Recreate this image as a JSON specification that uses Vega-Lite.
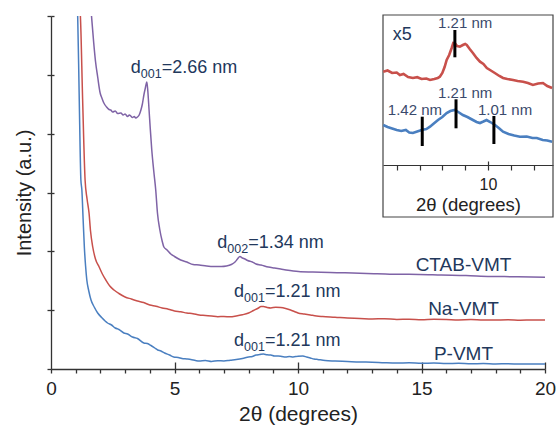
{
  "$schema": "https://vega.github.io/schema/vega-lite/v6.json",
  "width": 494,
  "height": 353,
  "autosize": {"type": "none"},
  "padding": {"left": 51, "top": 16, "right": 15, "bottom": 60},
  "config": {"view": {"stroke": null}, "font": "Liberation Sans"},
  "datasets": {
    "main": [
      {"series":"P-VMT","x":1.05,"y":364},{"series":"P-VMT","x":1.08,"y":353},{"series":"P-VMT","x":1.14,"y":275},{"series":"P-VMT","x":1.21,"y":189},{"series":"P-VMT","x":1.25,"y":179},{"series":"P-VMT","x":1.3,"y":150},{"series":"P-VMT","x":1.35,"y":122},{"series":"P-VMT","x":1.4,"y":103},{"series":"P-VMT","x":1.45,"y":89},{"series":"P-VMT","x":1.53,"y":78},{"series":"P-VMT","x":1.62,"y":69},{"series":"P-VMT","x":1.75,"y":62},{"series":"P-VMT","x":1.89,"y":56},{"series":"P-VMT","x":2.05,"y":51.5},{"series":"P-VMT","x":2.29,"y":46},{"series":"P-VMT","x":2.45,"y":44},{"series":"P-VMT","x":2.6,"y":41},{"series":"P-VMT","x":2.75,"y":39.5},{"series":"P-VMT","x":2.95,"y":36},{"series":"P-VMT","x":3.1,"y":35},{"series":"P-VMT","x":3.3,"y":32},{"series":"P-VMT","x":3.5,"y":30.5},{"series":"P-VMT","x":3.76,"y":26},{"series":"P-VMT","x":3.9,"y":25.5},{"series":"P-VMT","x":4.05,"y":23.5},{"series":"P-VMT","x":4.2,"y":21},{"series":"P-VMT","x":4.32,"y":19},{"series":"P-VMT","x":4.45,"y":18},{"series":"P-VMT","x":4.6,"y":16},{"series":"P-VMT","x":4.8,"y":14},{"series":"P-VMT","x":4.97,"y":12},{"series":"P-VMT","x":5.15,"y":11.5},{"series":"P-VMT","x":5.3,"y":10.5},{"series":"P-VMT","x":5.5,"y":10},{"series":"P-VMT","x":5.66,"y":9.5},{"series":"P-VMT","x":5.85,"y":8.5},{"series":"P-VMT","x":6.0,"y":8},{"series":"P-VMT","x":6.25,"y":8.5},{"series":"P-VMT","x":6.5,"y":7.5},{"series":"P-VMT","x":6.75,"y":8.3},{"series":"P-VMT","x":7.0,"y":8},{"series":"P-VMT","x":7.25,"y":8.8},{"series":"P-VMT","x":7.5,"y":9.5},{"series":"P-VMT","x":7.75,"y":10.5},{"series":"P-VMT","x":8.0,"y":12},{"series":"P-VMT","x":8.15,"y":12.5},{"series":"P-VMT","x":8.3,"y":14},{"series":"P-VMT","x":8.45,"y":14.5},{"series":"P-VMT","x":8.6,"y":15},{"series":"P-VMT","x":8.75,"y":14.2},{"series":"P-VMT","x":8.9,"y":14},{"series":"P-VMT","x":9.05,"y":13},{"series":"P-VMT","x":9.2,"y":13},{"series":"P-VMT","x":9.35,"y":12.5},{"series":"P-VMT","x":9.5,"y":12},{"series":"P-VMT","x":9.65,"y":12.5},{"series":"P-VMT","x":9.8,"y":12},{"series":"P-VMT","x":10.0,"y":12.8},{"series":"P-VMT","x":10.2,"y":13},{"series":"P-VMT","x":10.35,"y":12},{"series":"P-VMT","x":10.5,"y":11},{"series":"P-VMT","x":10.65,"y":10},{"series":"P-VMT","x":10.8,"y":9.5},{"series":"P-VMT","x":11.1,"y":8.5},{"series":"P-VMT","x":11.5,"y":8},{"series":"P-VMT","x":12.0,"y":7.5},{"series":"P-VMT","x":12.5,"y":7},{"series":"P-VMT","x":13.0,"y":6.8},{"series":"P-VMT","x":13.5,"y":6.3},{"series":"P-VMT","x":14,"y":6},{"series":"P-VMT","x":14.5,"y":6.2},{"series":"P-VMT","x":15,"y":5.7},{"series":"P-VMT","x":15.5,"y":5.9},{"series":"P-VMT","x":16,"y":5.5},{"series":"P-VMT","x":16.5,"y":5.7},{"series":"P-VMT","x":17,"y":5.2},{"series":"P-VMT","x":17.5,"y":5.5},{"series":"P-VMT","x":18,"y":5},{"series":"P-VMT","x":18.5,"y":5.3},{"series":"P-VMT","x":19,"y":4.9},{"series":"P-VMT","x":19.5,"y":5.1},{"series":"P-VMT","x":20,"y":5},
      {"series":"Na-VMT","x":1.16,"y":364},{"series":"Na-VMT","x":1.19,"y":353},{"series":"Na-VMT","x":1.28,"y":270},{"series":"Na-VMT","x":1.38,"y":189},{"series":"Na-VMT","x":1.46,"y":170},{"series":"Na-VMT","x":1.54,"y":156},{"series":"Na-VMT","x":1.6,"y":138},{"series":"Na-VMT","x":1.69,"y":122},{"series":"Na-VMT","x":1.8,"y":110},{"series":"Na-VMT","x":1.95,"y":102},{"series":"Na-VMT","x":2.08,"y":95},{"series":"Na-VMT","x":2.22,"y":89},{"series":"Na-VMT","x":2.38,"y":83},{"series":"Na-VMT","x":2.55,"y":79},{"series":"Na-VMT","x":2.75,"y":75.5},{"series":"Na-VMT","x":3.0,"y":72},{"series":"Na-VMT","x":3.25,"y":70},{"series":"Na-VMT","x":3.5,"y":68},{"series":"Na-VMT","x":3.75,"y":66.5},{"series":"Na-VMT","x":4.0,"y":64},{"series":"Na-VMT","x":4.25,"y":62.8},{"series":"Na-VMT","x":4.5,"y":61},{"series":"Na-VMT","x":4.75,"y":59.8},{"series":"Na-VMT","x":5.0,"y":58},{"series":"Na-VMT","x":5.25,"y":57.2},{"series":"Na-VMT","x":5.5,"y":56},{"series":"Na-VMT","x":5.75,"y":55.3},{"series":"Na-VMT","x":6.0,"y":54},{"series":"Na-VMT","x":6.25,"y":53.6},{"series":"Na-VMT","x":6.5,"y":53},{"series":"Na-VMT","x":6.75,"y":52.3},{"series":"Na-VMT","x":7.0,"y":52.5},{"series":"Na-VMT","x":7.25,"y":52.2},{"series":"Na-VMT","x":7.5,"y":53},{"series":"Na-VMT","x":7.75,"y":54.2},{"series":"Na-VMT","x":8.0,"y":56},{"series":"Na-VMT","x":8.2,"y":58.5},{"series":"Na-VMT","x":8.4,"y":61},{"series":"Na-VMT","x":8.5,"y":62.5},{"series":"Na-VMT","x":8.6,"y":62.5},{"series":"Na-VMT","x":8.75,"y":61.5},{"series":"Na-VMT","x":8.9,"y":61},{"series":"Na-VMT","x":9.1,"y":61.8},{"series":"Na-VMT","x":9.3,"y":61.5},{"series":"Na-VMT","x":9.5,"y":60.5},{"series":"Na-VMT","x":9.7,"y":59},{"series":"Na-VMT","x":9.85,"y":57.5},{"series":"Na-VMT","x":10.0,"y":56},{"series":"Na-VMT","x":10.25,"y":55},{"series":"Na-VMT","x":10.5,"y":54},{"series":"Na-VMT","x":10.75,"y":53},{"series":"Na-VMT","x":11.0,"y":52.5},{"series":"Na-VMT","x":11.5,"y":51.8},{"series":"Na-VMT","x":12.0,"y":51},{"series":"Na-VMT","x":12.5,"y":50.6},{"series":"Na-VMT","x":13.0,"y":50},{"series":"Na-VMT","x":13.5,"y":50.3},{"series":"Na-VMT","x":14.0,"y":49.5},{"series":"Na-VMT","x":14.5,"y":49.8},{"series":"Na-VMT","x":15,"y":49.3},{"series":"Na-VMT","x":15.5,"y":49.7},{"series":"Na-VMT","x":16,"y":49.5},{"series":"Na-VMT","x":16.5,"y":49.1},{"series":"Na-VMT","x":17,"y":49.4},{"series":"Na-VMT","x":17.5,"y":48.9},{"series":"Na-VMT","x":18,"y":49},{"series":"Na-VMT","x":18.5,"y":49.2},{"series":"Na-VMT","x":19,"y":48.8},{"series":"Na-VMT","x":19.5,"y":49.1},{"series":"Na-VMT","x":20,"y":49},
      {"series":"CTAB-VMT","x":1.62,"y":359},{"series":"CTAB-VMT","x":1.64,"y":353},{"series":"CTAB-VMT","x":1.73,"y":326},{"series":"CTAB-VMT","x":1.8,"y":308},{"series":"CTAB-VMT","x":1.89,"y":292},{"series":"CTAB-VMT","x":1.99,"y":276},{"series":"CTAB-VMT","x":2.06,"y":271},{"series":"CTAB-VMT","x":2.14,"y":266},{"series":"CTAB-VMT","x":2.25,"y":262},{"series":"CTAB-VMT","x":2.35,"y":259.5},{"series":"CTAB-VMT","x":2.42,"y":259},{"series":"CTAB-VMT","x":2.5,"y":257},{"series":"CTAB-VMT","x":2.6,"y":258},{"series":"CTAB-VMT","x":2.7,"y":255.5},{"series":"CTAB-VMT","x":2.83,"y":256},{"series":"CTAB-VMT","x":2.92,"y":254},{"series":"CTAB-VMT","x":3.0,"y":255},{"series":"CTAB-VMT","x":3.1,"y":252.5},{"series":"CTAB-VMT","x":3.17,"y":254},{"series":"CTAB-VMT","x":3.23,"y":253},{"series":"CTAB-VMT","x":3.3,"y":251.5},{"series":"CTAB-VMT","x":3.37,"y":252.5},{"series":"CTAB-VMT","x":3.43,"y":251},{"series":"CTAB-VMT","x":3.5,"y":252},{"series":"CTAB-VMT","x":3.57,"y":254},{"series":"CTAB-VMT","x":3.64,"y":259},{"series":"CTAB-VMT","x":3.7,"y":265},{"series":"CTAB-VMT","x":3.76,"y":274},{"series":"CTAB-VMT","x":3.82,"y":281},{"series":"CTAB-VMT","x":3.88,"y":287},{"series":"CTAB-VMT","x":3.92,"y":278},{"series":"CTAB-VMT","x":3.97,"y":259},{"series":"CTAB-VMT","x":4.02,"y":240},{"series":"CTAB-VMT","x":4.08,"y":219},{"series":"CTAB-VMT","x":4.16,"y":198},{"series":"CTAB-VMT","x":4.24,"y":179},{"series":"CTAB-VMT","x":4.31,"y":156},{"series":"CTAB-VMT","x":4.4,"y":140},{"series":"CTAB-VMT","x":4.5,"y":128},{"series":"CTAB-VMT","x":4.57,"y":122},{"series":"CTAB-VMT","x":4.7,"y":119},{"series":"CTAB-VMT","x":4.85,"y":115},{"series":"CTAB-VMT","x":5.0,"y":112.5},{"series":"CTAB-VMT","x":5.25,"y":109},{"series":"CTAB-VMT","x":5.5,"y":107},{"series":"CTAB-VMT","x":5.75,"y":104.5},{"series":"CTAB-VMT","x":6.0,"y":104},{"series":"CTAB-VMT","x":6.3,"y":103},{"series":"CTAB-VMT","x":6.6,"y":102.5},{"series":"CTAB-VMT","x":6.9,"y":102.5},{"series":"CTAB-VMT","x":7.1,"y":103},{"series":"CTAB-VMT","x":7.3,"y":104.5},{"series":"CTAB-VMT","x":7.45,"y":107},{"series":"CTAB-VMT","x":7.55,"y":110},{"series":"CTAB-VMT","x":7.65,"y":112.5},{"series":"CTAB-VMT","x":7.75,"y":111},{"series":"CTAB-VMT","x":7.85,"y":110},{"series":"CTAB-VMT","x":7.96,"y":108.5},{"series":"CTAB-VMT","x":8.15,"y":107},{"series":"CTAB-VMT","x":8.3,"y":105},{"series":"CTAB-VMT","x":8.5,"y":104},{"series":"CTAB-VMT","x":8.8,"y":102},{"series":"CTAB-VMT","x":9.05,"y":101},{"series":"CTAB-VMT","x":9.3,"y":100},{"series":"CTAB-VMT","x":9.6,"y":98.8},{"series":"CTAB-VMT","x":10.1,"y":97.3},{"series":"CTAB-VMT","x":10.6,"y":97},{"series":"CTAB-VMT","x":11.3,"y":96.5},{"series":"CTAB-VMT","x":11.9,"y":96.2},{"series":"CTAB-VMT","x":12.5,"y":95.7},{"series":"CTAB-VMT","x":13.2,"y":95.3},{"series":"CTAB-VMT","x":14.1,"y":94.7},{"series":"CTAB-VMT","x":14.9,"y":94.6},{"series":"CTAB-VMT","x":15.8,"y":94},{"series":"CTAB-VMT","x":16.8,"y":93.5},{"series":"CTAB-VMT","x":17.8,"y":92.5},{"series":"CTAB-VMT","x":18.9,"y":92.3},{"series":"CTAB-VMT","x":20,"y":91.7}
    ],
    "inset": [
      {"series":"Na-VMT","x":5.41,"y":93.3},{"series":"Na-VMT","x":5.6,"y":94.5},{"series":"Na-VMT","x":5.8,"y":92},{"series":"Na-VMT","x":6.0,"y":92.5},{"series":"Na-VMT","x":6.14,"y":90},{"series":"Na-VMT","x":6.3,"y":91},{"series":"Na-VMT","x":6.5,"y":88},{"series":"Na-VMT","x":6.71,"y":87},{"series":"Na-VMT","x":6.9,"y":87.8},{"series":"Na-VMT","x":7.09,"y":86},{"series":"Na-VMT","x":7.3,"y":86.5},{"series":"Na-VMT","x":7.46,"y":85},{"series":"Na-VMT","x":7.65,"y":86},{"series":"Na-VMT","x":7.8,"y":87},{"series":"Na-VMT","x":7.89,"y":88.3},{"series":"Na-VMT","x":8.0,"y":92},{"series":"Na-VMT","x":8.1,"y":98},{"series":"Na-VMT","x":8.19,"y":105},{"series":"Na-VMT","x":8.3,"y":110},{"series":"Na-VMT","x":8.41,"y":117},{"series":"Na-VMT","x":8.48,"y":122},{"series":"Na-VMT","x":8.55,"y":121.7},{"series":"Na-VMT","x":8.65,"y":119},{"series":"Na-VMT","x":8.77,"y":118.3},{"series":"Na-VMT","x":8.9,"y":120},{"series":"Na-VMT","x":9.0,"y":121},{"series":"Na-VMT","x":9.07,"y":120},{"series":"Na-VMT","x":9.2,"y":116},{"series":"Na-VMT","x":9.34,"y":112},{"series":"Na-VMT","x":9.5,"y":107},{"series":"Na-VMT","x":9.65,"y":103.3},{"series":"Na-VMT","x":9.8,"y":101},{"series":"Na-VMT","x":9.95,"y":97},{"series":"Na-VMT","x":10.09,"y":95},{"series":"Na-VMT","x":10.3,"y":92},{"series":"Na-VMT","x":10.5,"y":89},{"series":"Na-VMT","x":10.66,"y":87},{"series":"Na-VMT","x":10.85,"y":86},{"series":"Na-VMT","x":11.1,"y":85},{"series":"Na-VMT","x":11.3,"y":84},{"series":"Na-VMT","x":11.54,"y":83.3},{"series":"Na-VMT","x":11.75,"y":82},{"series":"Na-VMT","x":11.97,"y":80},{"series":"Na-VMT","x":12.2,"y":81.5},{"series":"Na-VMT","x":12.41,"y":82},{"series":"Na-VMT","x":12.6,"y":79},{"series":"Na-VMT","x":12.81,"y":77},
      {"series":"P-VMT","x":5.41,"y":40},{"series":"P-VMT","x":5.6,"y":38},{"series":"P-VMT","x":5.8,"y":36.5},{"series":"P-VMT","x":6.0,"y":35},{"series":"P-VMT","x":6.2,"y":34},{"series":"P-VMT","x":6.4,"y":35},{"series":"P-VMT","x":6.55,"y":32.5},{"series":"P-VMT","x":6.71,"y":32},{"series":"P-VMT","x":6.9,"y":33.5},{"series":"P-VMT","x":7.09,"y":35},{"series":"P-VMT","x":7.3,"y":36},{"series":"P-VMT","x":7.46,"y":38.3},{"series":"P-VMT","x":7.6,"y":41},{"series":"P-VMT","x":7.81,"y":45},{"series":"P-VMT","x":8.0,"y":48},{"series":"P-VMT","x":8.19,"y":52},{"series":"P-VMT","x":8.35,"y":54},{"series":"P-VMT","x":8.55,"y":55},{"series":"P-VMT","x":8.7,"y":53},{"series":"P-VMT","x":8.9,"y":50},{"series":"P-VMT","x":9.1,"y":48},{"series":"P-VMT","x":9.34,"y":45},{"series":"P-VMT","x":9.5,"y":43},{"series":"P-VMT","x":9.65,"y":42},{"series":"P-VMT","x":9.8,"y":43.5},{"series":"P-VMT","x":9.94,"y":45},{"series":"P-VMT","x":10.1,"y":43},{"series":"P-VMT","x":10.31,"y":40},{"series":"P-VMT","x":10.5,"y":36.5},{"series":"P-VMT","x":10.66,"y":33.3},{"series":"P-VMT","x":10.9,"y":31},{"series":"P-VMT","x":11.15,"y":29.5},{"series":"P-VMT","x":11.4,"y":28.3},{"series":"P-VMT","x":11.7,"y":28.5},{"series":"P-VMT","x":11.95,"y":27},{"series":"P-VMT","x":12.14,"y":27},{"series":"P-VMT","x":12.4,"y":25},{"series":"P-VMT","x":12.6,"y":24.5},{"series":"P-VMT","x":12.81,"y":23.3}
    ],
    "markers": [
      {"x":8.55,"y":107.7,"y2":135},
      {"x":8.6,"y":36.7,"y2":65.7},
      {"x":7.12,"y":19,"y2":48.3},
      {"x":10.26,"y":21,"y2":49}
    ],
    "insetLabels": [
      {"x":9.0,"y":142,"text":"1.21 nm"},
      {"x":9.0,"y":72,"text":"1.21 nm"},
      {"x":6.8,"y":55,"text":"1.42 nm"},
      {"x":10.75,"y":55,"text":"1.01 nm"}
    ],
    "dlabels": [
      {"x":3.23,"y":296,"sub":"001","rest":"=2.66 nm"},
      {"x":6.73,"y":121,"sub":"002","rest":"=1.34 nm"},
      {"x":7.41,"y":71.7,"sub":"001","rest":"=1.21 nm"},
      {"x":7.41,"y":23,"sub":"001","rest":"=1.21 nm"}
    ],
    "names": [
      {"x":16.7,"y":98.3,"text":"CTAB-VMT"},
      {"x":16.7,"y":54,"text":"Na-VMT"},
      {"x":16.7,"y":9,"text":"P-VMT"}
    ]
  },
  "layer": [
    {
      "data": {"name": "main"},
      "mark": {"type": "line", "strokeWidth": 1.5, "clip": true, "interpolate": "monotone"},
      "encoding": {
        "x": {"field": "x", "type": "quantitative",
          "scale": {"domain": [0, 20], "nice": false},
          "axis": {"orient": "bottom", "title": "2θ (degrees)", "values": [0,1,2,3,4,5,6,7,8,9,10,11,12,13,14,15,16,17,18,19,20],
            "labelExpr": "datum.value % 5 === 0 ? datum.label : ''",
            "tickSize": 4,
            "labelPadding": 6, "labelFlush": false, "labelOverlap": false, "grid": false,
            "labelFontSize": 19, "titleFontSize": 21, "titleFontWeight": "normal", "titlePadding": 5,
            "labelColor": "#222", "titleColor": "#222", "domainColor": "#333", "tickColor": "#333", "domainWidth": 1.3, "tickWidth": 1.3}},
        "y": {"field": "y", "type": "quantitative",
          "scale": {"domain": [0, 353], "nice": false},
          "axis": {"orient": "left", "title": "Intensity (a.u.)", "values": [0, 58.83, 117.67, 176.5, 235.33, 294.17, 353], "labels": false,
            "tickSize": 4, "grid": false, "titleFontSize": 20, "titleFontWeight": "normal", "titlePadding": 12,
            "titleColor": "#222", "domainColor": "#333", "tickColor": "#333", "domainWidth": 1.3, "tickWidth": 1.3}},
        "color": {"field": "series", "type": "nominal", "legend": null,
          "scale": {"domain": ["CTAB-VMT", "Na-VMT", "P-VMT"], "range": ["#7f63a6", "#c8504b", "#4a7fc0"]}}
      }
    },
    {
      "data": {"name": "dlabels"},
      "layer": [
        {"mark": {"type": "text", "text": "d", "align": "left", "baseline": "alphabetic", "fontSize": 18, "color": "#22385c"}},
        {"mark": {"type": "text", "align": "left", "baseline": "alphabetic", "fontSize": 12.5, "dx": 10, "dy": 4.5, "color": "#22385c"},
         "encoding": {"text": {"field": "sub"}}},
        {"mark": {"type": "text", "align": "left", "baseline": "alphabetic", "fontSize": 18, "dx": 31, "color": "#22385c"},
         "encoding": {"text": {"field": "rest"}}}
      ],
      "encoding": {
        "x": {"field": "x", "type": "quantitative", "scale": {"domain": [0, 20], "nice": false}, "axis": null},
        "y": {"field": "y", "type": "quantitative", "scale": {"domain": [0, 353], "nice": false}, "axis": null}
      }
    },
    {
      "data": {"name": "names"},
      "mark": {"type": "text", "align": "center", "baseline": "alphabetic", "fontSize": 19, "color": "#22385c"},
      "encoding": {
        "x": {"field": "x", "type": "quantitative", "scale": {"domain": [0, 20], "nice": false}, "axis": null},
        "y": {"field": "y", "type": "quantitative", "scale": {"domain": [0, 353], "nice": false}, "axis": null},
        "text": {"field": "text"}
      }
    },
    {
      "data": {"values": [{"x": 0, "y": 0}]},
      "mark": {"type": "point", "opacity": 0},
      "encoding": {
        "x": {"field": "x", "type": "quantitative", "scale": {"domain": [0, 20], "nice": false},
          "axis": {"orient": "bottom", "values": [5, 10, 15, 20], "tickSize": -7, "labels": false, "domain": false, "title": null, "grid": false, "tickColor": "#333", "tickWidth": 1.3}},
        "y": {"field": "y", "type": "quantitative", "scale": {"domain": [0, 353], "nice": false},
          "axis": {"orient": "left", "values": [58.83, 117.67, 176.5, 235.33, 294.17, 353], "tickSize": -3, "labels": false, "domain": false, "title": null, "grid": false, "tickColor": "#333", "tickWidth": 1.3}}
      }
    },
    {
      "data": {"values": [{}]},
      "mark": {"type": "rect", "fill": null, "stroke": "#444", "strokeWidth": 1.2, "clip": false},
      "encoding": {
        "x": {"datum": 5.4, "type": "quantitative", "scale": {"domain": [5.4, 12.85], "nice": false, "zero": false, "range": [332, 502]}, "axis": null},
        "x2": {"datum": 12.85},
        "y": {"datum": 150, "type": "quantitative", "scale": {"domain": [0, 150], "nice": false, "zero": false, "range": [149, -1]}, "axis": null},
        "y2": {"datum": -52}
      }
    },
    {
      "data": {"name": "inset"},
      "mark": {"type": "line", "strokeWidth": 2.6, "interpolate": "linear"},
      "encoding": {
        "x": {"field": "x", "type": "quantitative",
          "scale": {"domain": [5.4, 12.85], "nice": false, "zero": false, "range": [332, 502]},
          "axis": {"orient": "bottom", "offset": -204, "title": "2θ (degrees)", "values": [6,7,8,9,10,11,12],
            "labelExpr": "datum.value === 10 ? '10' : ''",
            "tickSize": 5,
            "labelPadding": 6, "labelFlush": false, "labelOverlap": false, "grid": false,
            "labelFontSize": 16, "titleFontSize": 18.5, "titleFontWeight": "normal", "titlePadding": 3,
            "labelColor": "#222", "titleColor": "#222", "domainColor": "#333", "tickColor": "#333", "domainWidth": 1.2, "tickWidth": 1.2}},
        "y": {"field": "y", "type": "quantitative",
          "scale": {"domain": [0, 150], "nice": false, "zero": false, "range": [149, -1]},
          "axis": null},
        "color": {"field": "series", "type": "nominal", "legend": null,
          "scale": {"domain": ["CTAB-VMT", "Na-VMT", "P-VMT"], "range": ["#7f63a6", "#c8504b", "#4a7fc0"]}}
      }
    },
    {
      "data": {"values": [{"x": 10, "y": 0}]},
      "mark": {"type": "point", "opacity": 0},
      "encoding": {
        "x": {"field": "x", "type": "quantitative", "scale": {"domain": [5.4, 12.85], "nice": false, "zero": false, "range": [332, 502]},
          "axis": {"orient": "bottom", "offset": -204, "values": [10], "tickSize": -4, "labels": false, "domain": false, "title": null, "grid": false, "tickColor": "#333", "tickWidth": 1.2}},
        "y": {"field": "y", "type": "quantitative", "scale": {"domain": [0, 150], "nice": false, "zero": false, "range": [149, -1]}, "axis": null}
      }
    },
    {
      "data": {"name": "markers"},
      "mark": {"type": "rule", "strokeWidth": 3, "color": "#000"},
      "encoding": {
        "x": {"field": "x", "type": "quantitative", "scale": {"domain": [5.4, 12.85], "nice": false, "zero": false, "range": [332, 502]}, "axis": null},
        "y": {"field": "y", "type": "quantitative", "scale": {"domain": [0, 150], "nice": false, "zero": false, "range": [149, -1]}, "axis": null},
        "y2": {"field": "y2"}
      }
    },
    {
      "data": {"name": "insetLabels"},
      "mark": {"type": "text", "align": "center", "baseline": "middle", "fontSize": 15, "color": "#3a4a6c"},
      "encoding": {
        "x": {"field": "x", "type": "quantitative", "scale": {"domain": [5.4, 12.85], "nice": false, "zero": false, "range": [332, 502]}, "axis": null},
        "y": {"field": "y", "type": "quantitative", "scale": {"domain": [0, 150], "nice": false, "zero": false, "range": [149, -1]}, "axis": null},
        "text": {"field": "text"}
      }
    },
    {
      "data": {"values": [{"x": 5.83, "y": 130, "text": "x5"}]},
      "mark": {"type": "text", "align": "left", "baseline": "middle", "fontSize": 18, "color": "#22385c"},
      "encoding": {
        "x": {"field": "x", "type": "quantitative", "scale": {"domain": [5.4, 12.85], "nice": false, "zero": false, "range": [332, 502]}, "axis": null},
        "y": {"field": "y", "type": "quantitative", "scale": {"domain": [0, 150], "nice": false, "zero": false, "range": [149, -1]}, "axis": null},
        "text": {"field": "text"}
      }
    }
  ],
  "resolve": {"scale": {"x": "independent", "y": "independent"}, "axis": {"x": "independent", "y": "independent"}}
}
